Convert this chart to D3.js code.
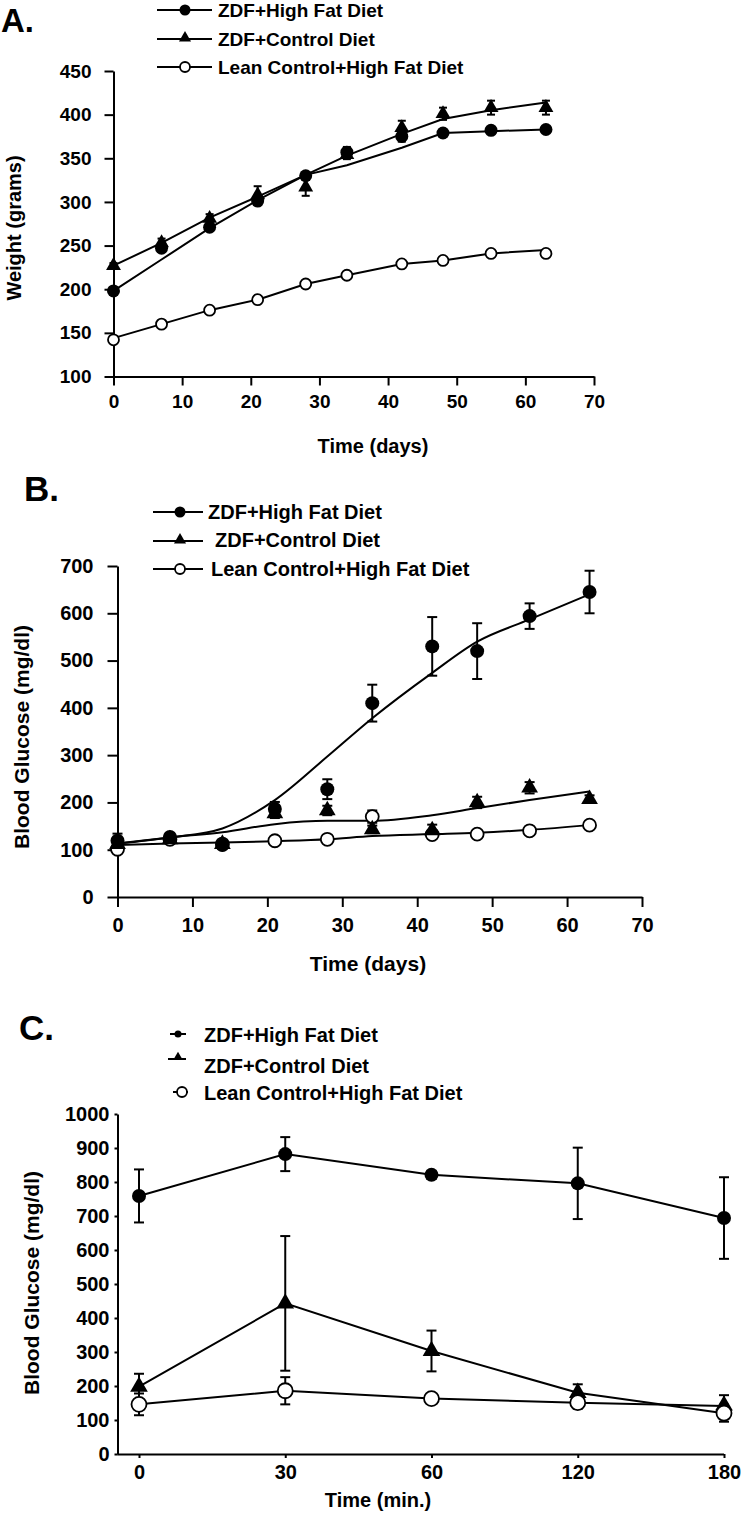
<!DOCTYPE html>
<html><head><meta charset="utf-8">
<script src="https://cdn.jsdelivr.net/npm/d3@7"></script>
<style>
body{margin:0;background:#fff;}
svg{display:block;font-family:"Liberation Sans",Arial,Helvetica,sans-serif;font-weight:bold;}
</style></head><body>
<svg id="c" width="750" height="1517"></svg>
<script>
// ---------- Panel A: body weight ----------
const daysA = [0, 7, 14, 21, 28, 34, 42, 48, 55, 63];
const hfA = [198, 247, 271, 301, 330, 357, 375, 379, 382, 383];
const hfAErr = [3, 4, 4, 4, 4, 6, 6, 4, 4, 3];
const hfAFit = [198, 234, 270, 302, 331, 342, 362, 379, 381, 383];
const ctrlA = [227, 253, 281, 308, 317, 354, 385, 401, 408, 408];
const ctrlAErr = [3, 5, 5, 10, 10, 5, 8, 7, 8, 8];
const ctrlAFit = [227, 253, 282, 306, 331, 353, 378, 395, 405, 414];
const leanA = [142, 160, 176, 188, 206, 216, 229, 233, 241, 241];
const leanAErr = [3, 3, 3, 3, 3, 3, 3, 3, 3, 3];
const leanAFit = [144, 160, 176, 188, 206, 216, 229, 233, 241, 245];
const xTicksA = [0, 10, 20, 30, 40, 50, 60, 70];
const yTicksA = [100, 150, 200, 250, 300, 350, 400, 450];

// ---------- Panel B: blood glucose over days ----------
const daysB = [0, 7, 14, 21, 28, 34, 42, 48, 55, 63];
const hfB = [119, 127, 110, 186, 228, 410, 530, 520, 594, 645];
const hfBErr = [15, 5, 5, 15, 21, 39, 62, 59, 27, 45];
const hfBFit = [113, 126, 145, 205, 297, 378, 474, 540, 587, 640];
const ctrlB = [112, 122, 112, 177, 183, 143, 141, 200, 231, 207];
const ctrlBErr = [5, 5, 5, 10, 10, 8, 12, 12, 12, 8];
const ctrlBFit = [113, 126, 137, 154, 161, 161, 173, 188, 205, 223];
const leanB = [101, 122, 112, 119, 122, 170, 132, 133, 140, 152];
const leanBErr = [5, 5, 5, 5, 5, 13, 5, 7, 5, 8];
const leanBFit = [110, 113, 115, 118, 122, 129, 133, 136, 142, 152];
const xTicksB = [0, 10, 20, 30, 40, 50, 60, 70];
const yTicksB = [0, 100, 200, 300, 400, 500, 600, 700];

// ---------- Panel C: glucose tolerance ----------
const timesC = ["0", "30", "60", "120", "180"];
const hfC = [759, 882, 821, 796, 694];
const hfCErr = [78, 50, 12, 105, 120];
const hfCLine = [759, 882, 821, 796, 694];
const ctrlC = [198, 443, 303, 180, 143];
const ctrlCErr = [38, 198, 60, 25, 30];
const ctrlCLine = [198, 443, 303, 180, 120];
const leanC = [146, 186, 163, 151, 120];
const leanCErr = [32, 40, 8, 18, 25];
const leanCLine = [146, 186, 163, 151, 141];
const yTicksC = [0, 100, 200, 300, 400, 500, 600, 700, 800, 900, 1000];

const labels = ["ZDF+High Fat Diet", "ZDF+Control Diet", "Lean Control+High Fat Diet"];

const svg = d3.select("#c");

function styleAxis(g, fs) {
  g.select(".domain").attr("stroke", "#000").attr("stroke-width", 2);
  g.selectAll(".tick line").attr("stroke", "#000").attr("stroke-width", 2);
  g.selectAll(".tick text").attr("fill", "#000").attr("font-size", fs).attr("font-weight", "bold")
    .attr("font-family", "'Liberation Sans', Arial, sans-serif");
}

function drawMarker(sel, type, r) {
  if (type === "dot") sel.append("circle").attr("r", r).attr("fill", "#000");
  else if (type === "open") sel.append("circle").attr("r", r).attr("fill", "#fff").attr("stroke", "#000").attr("stroke-width", 1.8);
  else sel.append("path").attr("d", d3.symbol(d3.symbolTriangle, r * r * 1.5)()).attr("fill", "#000");
}

function drawPanel(g, x, y, series, curve, cap) {
  series.forEach(s => {
    g.append("path").datum(s.xs.map((d, i) => [d, s.line[i]]))
      .attr("d", d3.line().x(d => x(d[0])).y(d => y(d[1])).curve(curve))
      .attr("fill", "none").attr("stroke", "#000").attr("stroke-width", s.lw || 2);
  });
  series.forEach(s => {
    const pts = s.xs.map((d, i) => ({ x: d, v: s.vals[i], e: s.errs[i] }));
    const eb = g.append("g").attr("stroke", "#000").attr("stroke-width", 2);
    eb.selectAll("line.v").data(pts).join("line").attr("class", "v")
      .attr("x1", d => x(d.x)).attr("x2", d => x(d.x))
      .attr("y1", d => y(d.v - d.e)).attr("y2", d => y(d.v + d.e));
    eb.selectAll("line.t").data(pts).join("line").attr("class", "t")
      .attr("x1", d => x(d.x) - cap).attr("x2", d => x(d.x) + cap)
      .attr("y1", d => y(d.v + d.e)).attr("y2", d => y(d.v + d.e));
    eb.selectAll("line.b").data(pts).join("line").attr("class", "b")
      .attr("x1", d => x(d.x) - cap).attr("x2", d => x(d.x) + cap)
      .attr("y1", d => y(d.v - d.e)).attr("y2", d => y(d.v - d.e));
  });
  series.forEach(s => {
    const pts = s.xs.map((d, i) => ({ x: d, v: s.vals[i] }));
    g.append("g").selectAll("g").data(pts).join("g")
      .attr("transform", d => `translate(${x(d.x)},${y(d.v)})`)
      .each(function () { drawMarker(d3.select(this), s.type, s.r); });
  });
}

function legend(g, items) {
  items.forEach(it => {
    g.append("line").attr("x1", it.x1).attr("x2", it.x2).attr("y1", it.ly).attr("y2", it.ly)
      .attr("stroke", "#000").attr("stroke-width", 2);
    const m = g.append("g").attr("transform", `translate(${it.mx},${it.my})`);
    drawMarker(m, it.type, it.r);
    g.append("text").attr("x", it.tx).attr("y", it.ty).attr("font-size", it.fs).text(it.label);
  });
}

function title(g, txt, x, y, fs, rot) {
  const t = g.append("text").attr("font-size", fs).attr("text-anchor", "middle").text(txt);
  if (rot) t.attr("transform", `translate(${x},${y}) rotate(-90)`).attr("dy", "0.35em");
  else t.attr("x", x).attr("y", y);
}

// ===== Panel A =====
{
  const g = svg.append("g");
  const x = d3.scaleLinear().domain([0, 70]).range([113.5, 594]);
  const y = d3.scaleLinear().domain([100, 450]).range([376.5, 71]);
  const gx = g.append("g").attr("transform", `translate(0,${y(100)})`)
    .call(d3.axisBottom(x).tickValues(xTicksA).tickSize(9).tickPadding(9).tickSizeOuter(0));
  styleAxis(gx, 19);
  const gy = g.append("g").attr("transform", `translate(${x(0)},0)`)
    .call(d3.axisLeft(y).tickValues(yTicksA).tickSize(9).tickPadding(13).tickSizeOuter(0));
  styleAxis(gy, 19);
  drawPanel(g, x, y, [
    { xs: daysA, vals: leanA, errs: leanAErr, line: leanAFit, type: "open", r: 5.5 },
    { xs: daysA, vals: ctrlA, errs: ctrlAErr, line: ctrlAFit, type: "tri", r: 8 },
    { xs: daysA, vals: hfA, errs: hfAErr, line: hfAFit, type: "dot", r: 6.5 }
  ], d3.curveLinear, 4);
  title(g, "Time (days)", 373, 453, 20);
  title(g, "Weight (grams)", 14, 228, 20, true);
  g.append("text").attr("x", 1).attr("y", 32).attr("font-size", 33).text("A.");
  legend(g, [
    { x1: 157, x2: 212, ly: 10, mx: 185, my: 10, type: "dot", r: 5.5, tx: 218, ty: 17, fs: 19, label: labels[0] },
    { x1: 157, x2: 212, ly: 39, mx: 185, my: 38, type: "tri", r: 6.5, tx: 218, ty: 46, fs: 19, label: labels[1] },
    { x1: 157, x2: 212, ly: 67, mx: 185, my: 67, type: "open", r: 5, tx: 218, ty: 74, fs: 19, label: labels[2] }
  ]);
}

// ===== Panel B =====
{
  const g = svg.append("g");
  const x = d3.scaleLinear().domain([0, 70]).range([117.5, 642]);
  const y = d3.scaleLinear().domain([0, 700]).range([897, 566]);
  const gx = g.append("g").attr("transform", `translate(0,${y(0)})`)
    .call(d3.axisBottom(x).tickValues(xTicksB).tickSize(10).tickPadding(11).tickSizeOuter(0));
  styleAxis(gx, 20);
  const gy = g.append("g").attr("transform", `translate(${x(0)},0)`)
    .call(d3.axisLeft(y).tickValues(yTicksB).tickSize(10).tickPadding(14).tickSizeOuter(0));
  styleAxis(gy, 20);
  drawPanel(g, x, y, [
    { xs: daysB, vals: leanB, errs: leanBErr, line: leanBFit, type: "open", r: 6.5 },
    { xs: daysB, vals: ctrlB, errs: ctrlBErr, line: ctrlBFit, type: "tri", r: 9 },
    { xs: daysB, vals: hfB, errs: hfBErr, line: hfBFit, type: "dot", r: 7 }
  ], d3.curveMonotoneX, 5);
  title(g, "Time (days)", 368, 971, 21);
  title(g, "Blood Glucose (mg/dl)", 22, 737, 21, true);
  g.append("text").attr("x", 24).attr("y", 501).attr("font-size", 35).text("B.");
  legend(g, [
    { x1: 153, x2: 203, ly: 512, mx: 180, my: 512, type: "dot", r: 5.5, tx: 208, ty: 519, fs: 20, label: labels[0] },
    { x1: 153, x2: 203, ly: 541, mx: 180, my: 540, type: "tri", r: 6.5, tx: 215, ty: 547, fs: 20, label: labels[1] },
    { x1: 153, x2: 203, ly: 569, mx: 180, my: 569, type: "open", r: 5, tx: 211, ty: 576, fs: 20, label: labels[2] }
  ]);
}

// ===== Panel C =====
{
  const g = svg.append("g");
  const x = d3.scalePoint().domain(timesC).range([139, 724]);
  const y = d3.scaleLinear().domain([0, 1000]).range([1454, 1114]);
  const gx = g.append("g").attr("transform", `translate(0,${y(0)})`)
    .call(d3.axisBottom(x).tickSize(4).tickPadding(7).tickSizeOuter(0));
  gx.select(".domain").attr("d", `M${117.5},0.5H${724}`);
  styleAxis(gx, 20);
  const gy = g.append("g").attr("transform", `translate(117.5,0)`)
    .call(d3.axisLeft(y).tickValues(yTicksC).tickFormat(d3.format("d")).tickSize(3).tickPadding(5).tickSizeOuter(0));
  styleAxis(gy, 20);
  drawPanel(g, x, y, [
    { xs: timesC, vals: hfC, errs: hfCErr, line: hfCLine, type: "dot", r: 7 },
    { xs: timesC, vals: ctrlC, errs: ctrlCErr, line: ctrlCLine, type: "tri", r: 9.5 },
    { xs: timesC, vals: leanC, errs: leanCErr, line: leanCLine, type: "open", r: 7.5 }
  ], d3.curveLinear, 5);
  title(g, "Time (min.)", 378, 1507, 20);
  title(g, "Blood Glucose (mg/dl)", 32, 1283, 21, true);
  g.append("text").attr("x", 19).attr("y", 1040).attr("font-size", 35).text("C.");
  legend(g, [
    { x1: 170, x2: 186, ly: 1034, mx: 178, my: 1034, type: "dot", r: 3.5, tx: 204, ty: 1042, fs: 20, label: labels[0] },
    { x1: 168, x2: 186, ly: 1059, mx: 178, my: 1057, type: "tri", r: 5, tx: 204, ty: 1073, fs: 20, label: labels[1] },
    { x1: 173, x2: 188, ly: 1092, mx: 182, my: 1092, type: "open", r: 5, tx: 204, ty: 1100, fs: 20, label: labels[2] }
  ]);
}
</script>
</body></html>
